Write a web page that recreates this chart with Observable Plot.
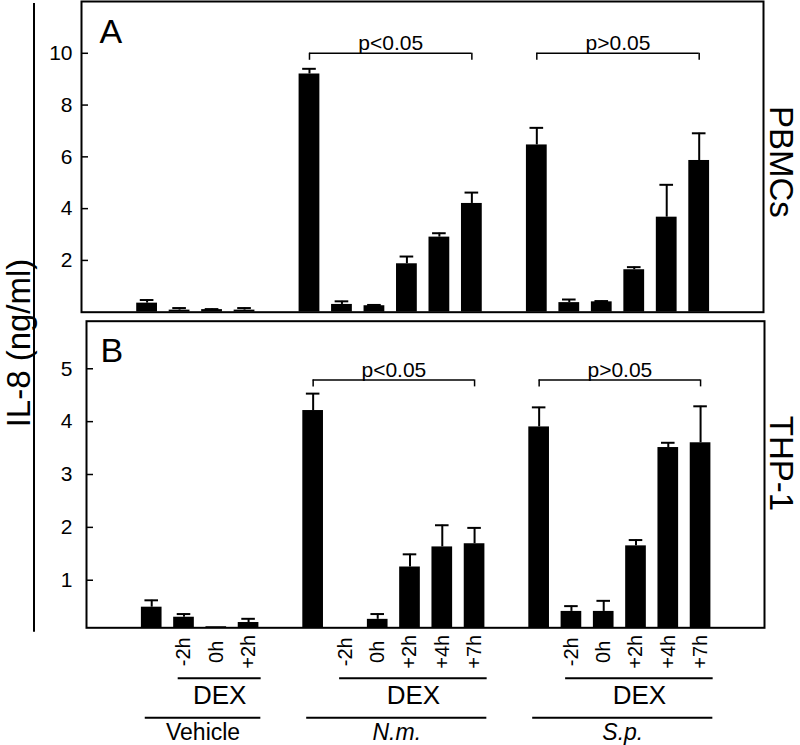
<!DOCTYPE html>
<html><head><meta charset="utf-8">
<script src="https://cdn.jsdelivr.net/npm/d3@7"></script>
<script src="https://cdn.jsdelivr.net/npm/@observablehq/plot@0.6"></script>
<style>
body{margin:0;background:#fff;}
#chart{position:relative;width:800px;height:745px;font-family:"Liberation Sans",Arial,sans-serif;}
#chart svg{position:absolute;left:0;top:0;}
#chart g[aria-label="y-axis tick label"], #chart g[aria-label="y-axis tick label"] text{font-size:21px !important;}
</style></head><body><div id="chart"></div>
<script>
// ---- data ----
const groups = ["Vehicle", "N.m.", "S.p."];
const groupItalic = [false, true, true];
const treatments = [
  ["", "-2h", "0h", "+2h"],
  ["", "-2h", "0h", "+2h", "+4h", "+7h"],
  ["", "-2h", "0h", "+2h", "+4h", "+7h"]
];
const treatmentName = "DEX";
// Panel A: PBMCs
const pbmcMean = [0.35, 0.08, 0.10, 0.08,  9.20, 0.30, 0.25, 1.87, 2.90, 4.20,  6.46, 0.37, 0.40, 1.64, 3.67, 5.86];
const pbmcErr  = [0.12, 0.08, 0.02, 0.08,  0.20, 0.12, 0.03, 0.28, 0.15, 0.42,  0.66, 0.12, 0.03, 0.10, 1.25, 1.05];
// Panel B: THP-1
const thpMean  = [0.49, 0.30, 0.12, 0.20,  4.21, 0.05, 0.26, 1.25, 1.63, 1.69,  3.90, 0.41, 0.41, 1.65, 3.51, 3.60];
const thpErr   = [0.13, 0.06, 0.00, 0.07,  0.32, 0.00, 0.10, 0.24, 0.41, 0.30,  0.37, 0.10, 0.20, 0.11, 0.09, 0.69];
const pGroups = ["N.m.", "S.p."];
const pbmcP = ["p<0.05", "p>0.05"];
const thpP = ["p<0.05", "p>0.05"];
const pbmcBracket = [10.0, 10.0];
const thpBracket = [4.79, 4.79];
const pbmcTicks = [2, 4, 6, 8, 10];
const thpTicks = [1, 2, 3, 4, 5];
const pbmcDomain = [0, 12];
const thpDomain = [0.1, 5.9];
const yLabel = "IL-8 (ng/ml)";

// ---- layout ----
const W = 800, H = 745;
const FONT = "Liberation Sans, Arial, sans-serif";
const xDomain = [-2.02, 18.98];

const rows = [];
{
  let start = 0;
  groups.forEach((g, gi) => {
    treatments[gi].forEach((t, ti) => rows.push({group: g, gi, label: t, slot: start + ti}));
    start += treatments[gi].length + 1;
  });
}

function panel(o) {
  const data = rows.map((r, i) => ({...r, mean: o.mean[i], err: o.err[i]}));
  const hPx = H - o.mt - o.mb;
  const unit = (o.yDomain[1] - o.yDomain[0]) / hPx;
  const brackets = pGroups.map((g, k) => {
    const s = data.filter(d => d.group === g).map(d => d.slot);
    return {x1: d3.min(s), x2: d3.max(s), y: o.level[k], text: o.pText[k]};
  });
  const ends = brackets.flatMap(b => [{x: b.x1, y: b.y}, {x: b.x2, y: b.y}]);
  const withErr = data.filter(d => d.err > 0);
  const marks = [
    Plot.rectY(data, {x1: d => d.slot - 0.32, x2: d => d.slot + 0.32, y1: 0, y2: d => d.mean, fill: "black", clip: true}),
    Plot.ruleX(withErr, {x: "slot", y1: d => d.mean, y2: d => d.mean + d.err, strokeWidth: 2}),
    Plot.ruleY(withErr, {y: d => d.mean + d.err, x1: d => d.slot - 0.21, x2: d => d.slot + 0.21, strokeWidth: 2}),
    Plot.ruleY(brackets, {y: "y", x1: "x1", x2: "x2", strokeWidth: 1.5}),
    Plot.ruleX(ends, {x: "x", y1: "y", y2: d => d.y - 7 * unit, strokeWidth: 1.5}),
    Plot.text(brackets, {x: d => (d.x1 + d.x2) / 2, y: "y", text: "text", lineAnchor: "bottom", dy: -3, fontSize: 21}),
    Plot.frame({strokeWidth: 2}),
    Plot.axisY({ticks: o.ticks, tickSize: 7, dx: 7, tickFormat: () => "", strokeWidth: 1.5, label: null}),
    Plot.axisY({ticks: o.ticks, tickSize: 0, tickPadding: o.labelPad, tickFormat: d => String(d), fontSize: 21, label: null}),
    Plot.text([o.letter], {frameAnchor: "top-left", text: d => d, dx: o.letterDx, dy: 17, lineAnchor: "top", textAnchor: "start", fontSize: 34}),
    Plot.text([o.cell], {frameAnchor: "right", text: d => d, dx: o.cellDx, dy: o.cellDy, rotate: 90, textAnchor: "middle", lineAnchor: "bottom", fontSize: 33}),
    ...(o.extra ? o.extra(data) : [])
  ];
  return Plot.plot({
    width: W, height: H,
    marginTop: o.mt, marginBottom: o.mb, marginLeft: o.ml, marginRight: o.mr,
    x: {domain: xDomain, axis: null},
    y: {domain: o.yDomain, label: null},
    style: {fontFamily: FONT, fontSize: "20px", background: "transparent", overflow: "visible", color: "black"},
    marks
  });
}

const topPanel = panel({
  mean: pbmcMean, err: pbmcErr, yDomain: pbmcDomain, ticks: pbmcTicks,
  mt: 1, mb: H - 311.7, ml: 81, mr: 37, labelPad: 9,
  letter: "A", letterDx: 18, cell: "PBMCs", cellDx: 6.5, cellDy: 5,
  level: pbmcBracket, pText: pbmcP
});

const bottomExtra = (data) => {
  const labeled = data.filter(d => d.label !== "");
  const spans = groups.map((g, gi) => {
    const s = data.filter(d => d.gi === gi);
    const dex = s.filter(d => d.label !== "");
    return {
      group: g, italic: groupItalic[gi], name: treatmentName,
      gx1: d3.min(s, d => d.slot) - 0.2, gx2: d3.max(s, d => d.slot) + 0.38,
      dx1: d3.min(dex, d => d.slot) - 0.18, dx2: d3.max(dex, d => d.slot) + 0.39
    };
  });
  const y0 = thpDomain[0];
  return [
    Plot.text(labeled, {x: "slot", frameAnchor: "bottom", text: "label", dy: 24, rotate: -90, textAnchor: "middle", lineAnchor: "middle", fontSize: 20}),
    Plot.ruleY(spans, {y: y0, x1: "dx1", x2: "dx2", dy: 50.4, strokeWidth: 2}),
    Plot.text(spans, {x: d => (d.dx1 + d.dx2) / 2, frameAnchor: "bottom", text: "name", dy: 67.4, lineAnchor: "middle", fontSize: 26}),
    Plot.ruleY(spans, {y: y0, x1: "gx1", x2: "gx2", dy: 90, strokeWidth: 2}),
    Plot.text(spans.filter(d => !d.italic), {x: d => (d.gx1 + d.gx2) / 2, frameAnchor: "bottom", text: "group", dy: 104.5, lineAnchor: "middle", fontSize: 23}),
    Plot.text(spans.filter(d => d.italic), {x: d => (d.gx1 + d.gx2) / 2, frameAnchor: "bottom", text: "group", dy: 104.5, lineAnchor: "middle", fontSize: 23, fontStyle: "italic"}),
    Plot.text([yLabel], {frameAnchor: "top-left", text: d => d, dx: -67, dy: 21.8, rotate: -90, textAnchor: "middle", lineAnchor: "middle", fontSize: 33}),
    (index, scales, values, dims) => {
      const x = dims.marginLeft - 52;
      const l = document.createElementNS("http://www.w3.org/2000/svg", "line");
      l.setAttribute("x1", x); l.setAttribute("x2", x);
      l.setAttribute("y1", 3); l.setAttribute("y2", dims.height - dims.marginBottom + 4.4);
      l.setAttribute("stroke", "black"); l.setAttribute("stroke-width", 2);
      return l;
    }
  ];
};

const bottomPanel = panel({
  mean: thpMean, err: thpErr, yDomain: thpDomain, ticks: thpTicks,
  mt: 320.7, mb: H - 627.3, ml: 86, mr: 36, labelPad: 14,
  letter: "B", letterDx: 14, cell: "THP-1", cellDx: 5.5, cellDy: -11,
  level: thpBracket, pText: thpP, extra: bottomExtra
});

const chart = document.getElementById("chart");
chart.appendChild(topPanel);
chart.appendChild(bottomPanel);
</script></body></html>
